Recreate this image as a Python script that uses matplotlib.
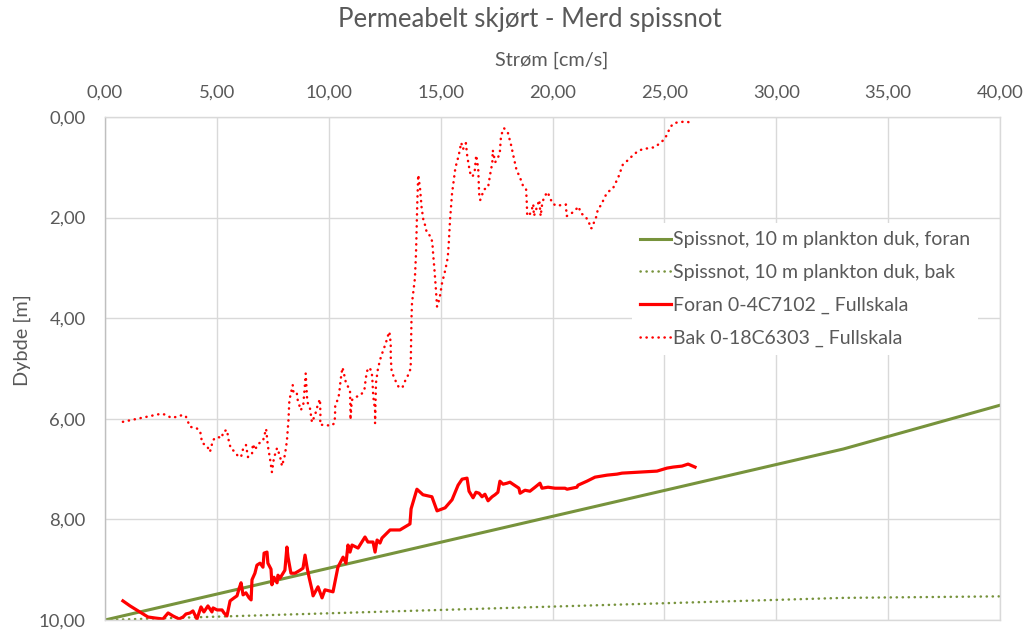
import matplotlib
matplotlib.use("Agg")
import matplotlib.pyplot as plt
from matplotlib.ticker import FuncFormatter

# current speed [cm/s] and depth [m]
spiss_foran_x = [0, 33, 40]
spiss_foran_y = [10.0, 6.6, 5.73]

spiss_bak_x = [0, 33, 40]
spiss_bak_y = [10.0, 9.56, 9.53]

foran_x = [0.80, 1.12, 1.56, 1.92, 2.23, 2.59, 2.82, 3.04, 3.31, 3.49, 3.62, 3.80, 3.93, 4.11, 4.29,
           4.42, 4.60, 4.78, 4.83, 5.01, 5.23, 5.32, 5.45, 5.59, 5.77, 5.90, 5.99, 6.08, 6.17, 6.30,
           6.44, 6.53, 6.57, 6.70, 6.79, 6.93, 7.06, 7.11, 7.24, 7.28, 7.42, 7.46, 7.55, 7.69, 7.73,
           7.82, 7.96, 8.04, 8.13, 8.18, 8.31, 8.49, 8.72, 8.85, 8.94, 9.03, 9.12, 9.25, 9.30, 9.52,
           9.70, 9.83, 10.19, 10.41, 10.64, 10.77, 10.86, 10.95, 11.04, 11.31, 11.62, 11.75, 11.98,
           12.07, 12.16, 12.29, 12.38, 12.74, 13.18, 13.63, 13.68, 13.94, 14.21, 14.61, 14.84, 15.20,
           15.51, 15.78, 15.96, 16.18, 16.27, 16.45, 16.58, 16.72, 16.85, 16.98, 17.12, 17.30, 17.43,
           17.56, 17.65, 17.79, 17.97, 18.10, 18.23, 18.50, 18.55, 18.77, 18.99, 19.22, 19.44, 19.53,
           19.80, 20.11, 20.56, 20.65, 21.09, 21.14, 21.54, 21.90, 22.44, 22.88, 23.11, 23.91, 24.67,
           25.12, 25.39, 25.79, 26.06, 26.37]
foran_y = [9.62, 9.72, 9.84, 9.94, 9.96, 9.98, 9.86, 9.92, 9.98, 9.94, 9.88, 9.86, 9.82, 9.98, 9.74,
           9.84, 9.72, 9.84, 9.76, 9.80, 9.80, 9.86, 9.92, 9.62, 9.56, 9.52, 9.38, 9.26, 9.50, 9.46,
           9.56, 9.60, 9.20, 9.07, 8.91, 8.87, 8.95, 8.67, 8.65, 8.87, 8.99, 9.30, 9.15, 9.26, 9.11,
           9.17, 9.07, 9.01, 8.55, 8.75, 9.07, 9.07, 9.01, 8.97, 8.71, 8.95, 9.15, 9.40, 9.52, 9.34,
           9.56, 9.40, 9.44, 8.95, 8.75, 8.87, 8.51, 8.65, 8.51, 8.57, 8.35, 8.45, 8.45,
           8.65, 8.41, 8.47, 8.37, 8.21, 8.21, 8.09, 7.79, 7.40, 7.51, 7.55, 7.83, 7.77,
           7.61, 7.32, 7.20, 7.18, 7.44, 7.57, 7.46, 7.48, 7.55, 7.50, 7.63, 7.55, 7.51,
           7.46, 7.24, 7.30, 7.28, 7.26, 7.30, 7.38, 7.48, 7.42, 7.44, 7.36, 7.28, 7.38,
           7.36, 7.38, 7.38, 7.40, 7.36, 7.32, 7.24, 7.16, 7.12, 7.10, 7.08, 7.06, 7.04,
           6.98, 6.96, 6.94, 6.90, 6.96]

bak_x = [0.80, 1.65, 2.50, 2.73, 2.95, 3.22, 3.49, 3.62, 3.80, 4.07, 4.25, 4.34, 4.56, 4.69, 4.83,
         5.01, 5.23, 5.27, 5.45, 5.54, 5.63, 5.77, 5.94, 6.08, 6.17, 6.30, 6.39, 6.57, 6.61, 6.70,
         6.84, 7.06, 7.20, 7.28, 7.37, 7.46, 7.55, 7.69, 7.82, 7.91, 8.04, 8.13, 8.20, 8.24, 8.39,
         8.42, 8.57, 8.59, 8.75, 8.86, 8.93, 8.97, 9.01, 9.04, 9.16, 9.25, 9.39, 9.53, 9.61, 9.63,
         9.61, 9.83, 10.10, 10.25, 10.28, 10.29, 10.43, 10.47, 10.53, 10.61, 10.65, 10.77, 10.87,
         10.95, 10.97, 10.97, 11.03, 11.17, 11.40, 11.59, 11.63, 11.70, 11.81, 11.92, 11.95, 11.99,
         12.07, 12.07, 12.11, 12.19, 12.29, 12.44, 12.55, 12.62, 12.71, 12.77, 12.77, 12.81, 13.01,
         13.15, 13.31, 13.42, 13.56, 13.66, 13.68, 13.70, 13.72, 13.78, 13.85, 13.90, 13.93, 13.96,
         14.00, 14.08, 14.15, 14.23, 14.32, 14.38, 14.57, 14.63, 14.67, 14.72, 14.78, 14.84, 14.91,
         14.97, 15.06, 15.21, 15.32, 15.36, 15.42, 15.51, 15.66, 15.73, 15.81, 15.92, 16.00, 16.13,
         16.19, 16.31, 16.42, 16.52, 16.59, 16.68, 16.72, 16.77, 16.94, 17.12, 17.21, 17.31, 17.33,
         17.44, 17.64, 17.70, 17.83, 18.01, 18.15, 18.27, 18.40, 18.52, 18.70, 18.82, 18.85, 18.87,
         18.95, 19.07, 19.14, 19.17, 19.32, 19.41, 19.47, 19.54, 19.62, 19.77, 19.89, 19.99, 20.21,
         20.46, 20.60, 20.63, 20.81, 21.02, 21.17, 21.26, 21.45, 21.63, 21.68, 21.75, 21.85, 21.96,
         22.02, 22.21, 22.32, 22.47, 22.69, 22.82, 22.94, 23.14, 23.34, 23.55, 23.76, 24.01, 24.28,
         24.58, 24.80, 25.01, 25.15, 25.26, 25.44, 25.71, 25.98, 26.22]
bak_y = [6.06, 5.98, 5.90, 5.92, 5.98, 5.96, 5.92, 5.96, 6.16, 6.18, 6.24, 6.48, 6.54, 6.66, 6.42,
         6.36, 6.38, 6.26, 6.22, 6.46, 6.60, 6.64, 6.74, 6.76, 6.60, 6.52, 6.76, 6.70, 6.50, 6.62,
         6.50, 6.44, 6.20, 6.54, 6.78, 7.06, 6.78, 6.58, 6.74, 6.94, 6.72, 6.44, 6.02, 5.63, 5.33,
         5.46, 5.46, 5.59, 5.83, 5.73, 5.35, 5.10, 5.43, 5.66, 5.79, 6.07, 5.92, 5.69, 5.61, 5.98,
         6.12, 6.12, 6.14, 6.09, 5.96, 5.73, 5.59, 5.48, 5.23, 4.98, 5.04, 5.29, 5.37,
         5.43, 5.83, 6.02, 5.63, 5.57, 5.54, 5.44, 5.29, 5.06, 4.98, 5.06, 5.23, 5.56,
         5.83, 6.09, 5.29, 5.03, 4.83, 4.63, 4.50, 4.38, 4.27, 4.50, 4.77, 5.06, 5.27,
         5.39, 5.36, 5.24, 5.12, 5.00, 4.50, 3.97, 3.70, 3.47, 3.21, 2.71, 2.18, 1.66,
         1.15, 1.42, 1.80, 2.05, 2.17, 2.30, 2.38, 2.50, 2.75, 3.01, 3.37, 3.77, 3.67,
         3.56, 3.31, 3.04, 2.79, 2.54, 2.05, 1.52, 1.01, 0.89, 0.76, 0.51, 0.64, 0.52,
         0.78, 1.10, 1.19, 1.09, 0.76, 1.02, 1.52, 1.65, 1.44, 1.40, 1.15, 0.91, 0.66,
         0.90, 0.74, 0.37, 0.22, 0.32, 0.56, 0.81, 1.07, 1.17, 1.39, 1.44, 1.70, 1.95,
         1.97, 1.85, 1.73, 1.97, 1.77, 1.65, 1.97, 1.72, 1.60, 1.49, 1.60, 1.72, 1.77,
         1.74, 1.74, 1.97, 1.93, 1.85, 1.78, 1.91, 1.97, 2.08, 2.21, 2.21, 2.10, 1.98,
         1.85, 1.72, 1.60, 1.49, 1.43, 1.31, 1.20, 0.95, 0.87, 0.78, 0.70, 0.64, 0.62,
         0.60, 0.52, 0.44, 0.32, 0.20, 0.12, 0.10, 0.09, 0.12]

x_ticks = [0, 5, 10, 15, 20, 25, 30, 35, 40]
y_ticks = [0, 2, 4, 6, 8, 10]

GREEN = "#77933C"
RED = "#FF0000"
GREY = "#595959"
GRID = "#D9D9D9"

plt.rcParams["font.family"] = ["Lato", "DejaVu Sans"]

fig = plt.figure(figsize=(10.27, 6.30), dpi=100)
ax = fig.add_axes([105 / 1027, 1 - 620 / 630, 895 / 1027, 503 / 630])

dot = (0, (0.1, 2.3))
ax.plot(spiss_foran_x, spiss_foran_y, color=GREEN, lw=2.2, label="Spissnot, 10 m plankton duk, foran")
ax.plot(spiss_bak_x, spiss_bak_y, color=GREEN, lw=1.8, linestyle=dot, dash_capstyle="round",
        label="Spissnot, 10 m plankton duk, bak")
ax.plot(foran_x, foran_y, color=RED, lw=2.3, label="Foran 0-4C7102 _ Fullskala", clip_on=False)
ax.plot(bak_x, bak_y, color=RED, lw=1.8, linestyle=dot, dash_capstyle="round",
        label="Bak 0-18C6303 _ Fullskala")

ax.set_xlim(0, 40)
ax.set_ylim(10, 0)
ax.set_xticks(x_ticks)
ax.set_yticks(y_ticks)
fmt = FuncFormatter(lambda v, p: f"{v:.2f}".replace(".", ","))
ax.xaxis.set_major_formatter(fmt)
ax.yaxis.set_major_formatter(fmt)
ax.xaxis.tick_top()
ax.tick_params(axis="both", length=0, labelsize=13.3, labelcolor=GREY)
ax.tick_params(axis="x", pad=12)
ax.tick_params(axis="y", pad=14)

ax.grid(True, color=GRID, lw=1)
ax.set_axisbelow(True)
for s in ax.spines.values():
    s.set_color(GRID)
    s.set_linewidth(1)
ax.spines["left"].set_color("#BFBFBF")

fig.text(530 / 1027, 1 - 20 / 630, "Permeabelt skjørt - Merd spissnot", ha="center", va="center",
         fontsize=18.5, color=GREY)
fig.text(552 / 1027, 1 - 60 / 630, "Strøm [cm/s]", ha="center", va="center", fontsize=14.3, color=GREY)
fig.text(22 / 1027, 1 - 340 / 630, "Dybde [m]", ha="center", va="center", rotation=90,
         fontsize=14.3, color=GREY)

leg = ax.legend(loc="center left", bbox_to_anchor=(622 / 1027, 1 - 289 / 630),
                bbox_transform=fig.transFigure, fontsize=14, frameon=True, facecolor="white",
                edgecolor="none", framealpha=1, fancybox=False, handlelength=1.55, handletextpad=0.1,
                labelspacing=0.8, borderpad=0.45)
for t in leg.get_texts():
    t.set_color(GREY)

fig.savefig("out.png", dpi=100)
